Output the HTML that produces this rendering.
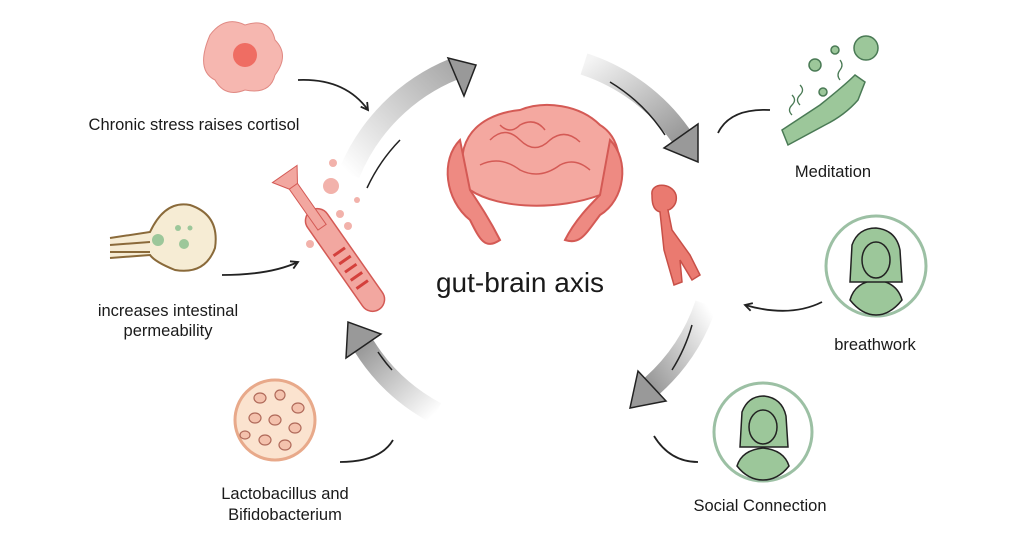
<!DOCTYPE html>
<html><head><meta charset="utf-8"><style>
html,body{margin:0;padding:0;background:#fff}
svg{display:block}
text{font-family:"Liberation Sans",sans-serif;fill:#1a1a1a}
</style></head><body>
<svg width="1024" height="559" viewBox="0 0 1024 559">
<defs>
<linearGradient id="g1" x1="0" y1="1" x2="1" y2="0"><stop offset="0" stop-color="#fff"/><stop offset="1" stop-color="#aaa"/></linearGradient>
<linearGradient id="g2" x1="0" y1="0" x2="1" y2="1"><stop offset="0" stop-color="#f4f4f4"/><stop offset="1" stop-color="#999"/></linearGradient>
<linearGradient id="g3" x1="1" y1="0" x2="0" y2="1"><stop offset="0" stop-color="#fff"/><stop offset="1" stop-color="#999"/></linearGradient>
<linearGradient id="g4" x1="1" y1="1" x2="0" y2="0"><stop offset="0" stop-color="#fff"/><stop offset="1" stop-color="#999"/></linearGradient>
<marker id="ah" markerWidth="10" markerHeight="10" refX="8" refY="5" orient="auto" markerUnits="userSpaceOnUse"><path d="M1,1 L8,5 L1,9" fill="none" stroke="#222" stroke-width="1.8"/></marker>
</defs>
<!-- big arcs -->
<path d="M349,174 A190,190 0 0 1 454,69" fill="none" stroke="url(#g1)" stroke-width="22"/>
<polygon points="448,58 476,65 464,96" fill="#999" stroke="#222" stroke-width="1.5"/>
<path d="M584,64 A190,190 0 0 1 681,136" fill="none" stroke="url(#g2)" stroke-width="22"/>
<polygon points="698,124 698,162 664,148" fill="#999" stroke="#222" stroke-width="1.5"/>
<path d="M706,304 A190,190 0 0 1 652,386" fill="none" stroke="url(#g3)" stroke-width="22"/>
<polygon points="666,401 630,408 638,371" fill="#999" stroke="#222" stroke-width="1.5"/>
<path d="M436,413 A190,190 0 0 1 364,346" fill="none" stroke="url(#g4)" stroke-width="22"/>
<polygon points="346,358 348,322 381,334" fill="#999" stroke="#222" stroke-width="1.5"/>
<!-- inner thin lines -->
<g fill="none" stroke="#222" stroke-width="1.5">
<path d="M367,188 A172,172 0 0 1 400,140"/>
<path d="M610,82 A172,172 0 0 1 665,135"/>
<path d="M692,325 A172,172 0 0 1 672,370"/>
<path d="M392,370 A172,172 0 0 1 378,352"/>
</g>
<!-- brain -->
<g fill="#f4a8a0" stroke="#d45a55" stroke-width="2">
<path d="M470,190 C450,150 470,115 520,110 C545,100 580,105 600,125 C625,140 625,180 600,195 C560,210 500,210 470,190Z"/>
<path d="M460,140 C440,160 445,200 470,220 C480,240 485,250 500,240 C490,220 480,205 470,190Z" fill="#ee8a82"/>
<path d="M610,140 C630,160 625,200 600,215 C585,235 580,245 565,240 C575,220 590,205 600,195Z" fill="#ee8a82"/>
<path d="M490,140 q15,-15 30,0 q15,15 30,0 q15,-12 30,2 M480,165 q20,-10 40,5 q20,10 40,-5 q15,-8 30,5 M500,125 q10,10 20,0 q15,-8 25,5" fill="none" stroke-width="1.5"/>
</g>
<!-- left gut tube -->
<g transform="rotate(-35 345 260)">
<rect x="333" y="200" width="24" height="120" rx="12" fill="#f2a7a0" stroke="#d45a55" stroke-width="1.5"/>
<rect x="340" y="160" width="10" height="60" fill="#f2a7a0" stroke="#d45a55"/>
<path d="M330,155 L360,155 L350,170 L340,170Z" fill="#f2a7a0" stroke="#d45a55"/>
<g stroke="#d4403c" stroke-width="3"><line x1="338" y1="250" x2="352" y2="250"/><line x1="338" y1="260" x2="352" y2="260"/><line x1="338" y1="270" x2="352" y2="270"/><line x1="338" y1="280" x2="352" y2="280"/><line x1="338" y1="290" x2="352" y2="290"/></g>
</g>
<g fill="#f2b2ab"><circle cx="331" cy="186" r="8"/><circle cx="333" cy="163" r="4"/><circle cx="340" cy="214" r="4"/><circle cx="348" cy="226" r="4"/><circle cx="310" cy="244" r="4"/><circle cx="357" cy="200" r="3"/></g>
<!-- right gut -->
<g fill="#ea7a70" stroke="#c85048" stroke-width="1.5">
<path d="M652,195 C650,182 672,182 676,195 C678,205 670,210 668,210 L672,230 L690,255 L700,275 L692,280 L680,260 L682,282 L674,285 L664,250 L660,212 C652,210 652,200 652,195Z"/>
</g>
<!-- stress blob -->
<g fill="#f6b7b0" stroke="#e08a84"><path d="M210,35 q15,-20 35,-10 q25,-8 30,15 q15,15 0,35 q-5,20 -30,15 q-20,8 -30,-10 q-20,-10 -5,-45Z"/><circle cx="245" cy="55" r="12" fill="#ef6d63" stroke="none"/></g>
<!-- cell -->
<g stroke="#8a6a3a" stroke-width="2" fill="#f6ecd4"><path d="M110,238 L150,232 Q165,200 190,205 Q220,215 215,248 Q205,275 175,270 Q155,262 150,255 L110,258" /><path d="M110,245 L150,242 M110,252 L150,252" fill="none"/></g>
<g fill="#9cc79a"><circle cx="158" cy="240" r="6"/><circle cx="184" cy="244" r="5"/><circle cx="178" cy="228" r="3"/><circle cx="190" cy="228" r="2.5"/></g>
<!-- bacteria circle -->
<circle cx="275" cy="420" r="40" fill="#fbe3cf" stroke="#e8a98a" stroke-width="3"/>
<g fill="#f4c2ad" stroke="#b06a5a" stroke-width="1.2"><ellipse cx="260" cy="398" rx="6" ry="5"/><ellipse cx="280" cy="395" rx="5" ry="5"/><ellipse cx="298" cy="408" rx="6" ry="5"/><ellipse cx="255" cy="418" rx="6" ry="5"/><ellipse cx="275" cy="420" rx="6" ry="5"/><ellipse cx="295" cy="428" rx="6" ry="5"/><ellipse cx="265" cy="440" rx="6" ry="5"/><ellipse cx="285" cy="445" rx="6" ry="5"/><ellipse cx="245" cy="435" rx="5" ry="4"/></g>
<!-- meditation -->
<g fill="#9cc79a" stroke="#4a7a55" stroke-width="1.5"><path d="M782,130 L820,105 Q845,85 855,75 L865,82 L858,100 Q845,115 825,125 L788,145Z"/><circle cx="866" cy="48" r="12"/><circle cx="815" cy="65" r="6"/><circle cx="835" cy="50" r="4"/><circle cx="823" cy="92" r="4"/></g>
<g fill="none" stroke="#4a7a55" stroke-width="1.3"><path d="M792,95 q5,5 0,10 q-5,5 0,10 M800,85 q5,5 0,10 q-5,5 0,10 M840,60 q4,5 0,10 q-4,5 0,10"/></g>
<!-- avatars -->
<g>
<circle cx="876" cy="266" r="50" fill="#fff" stroke="#9cc0a4" stroke-width="3"/>
<path d="M850,300 Q855,282 876,280 Q897,282 902,300 Q890,315 876,315 Q862,315 850,300Z" fill="#9cc79a" stroke="#222" stroke-width="1.5"/>
<path d="M850,282 L852,245 Q858,228 876,228 Q896,230 900,250 L902,282Z" fill="#9cc79a" stroke="#222" stroke-width="1.5"/>
<ellipse cx="876" cy="260" rx="14" ry="18" fill="#9cc79a" stroke="#222" stroke-width="1.5"/>
</g>
<g>
<circle cx="763" cy="432" r="49" fill="#fff" stroke="#9cc0a4" stroke-width="3"/>
<path d="M737,466 Q742,450 763,448 Q784,450 789,466 Q778,480 763,480 Q748,480 737,466Z" fill="#9cc79a" stroke="#222" stroke-width="1.5"/>
<path d="M740,447 L742,412 Q748,396 764,396 Q782,398 786,416 L788,447Z" fill="#9cc79a" stroke="#222" stroke-width="1.5"/>
<ellipse cx="763" cy="427" rx="14" ry="17" fill="#9cc79a" stroke="#222" stroke-width="1.5"/>
</g>
<!-- small connectors -->
<g fill="none" stroke="#222" stroke-width="1.8">
<path d="M298,80 Q345,78 368,110" marker-end="url(#ah)"/>
<path d="M222,275 Q270,275 298,262" marker-end="url(#ah)"/>
<path d="M340,462 Q380,462 393,440"/>
<path d="M718,133 Q730,108 770,110"/>
<path d="M822,302 Q790,318 745,305" marker-end="url(#ah)"/>
<path d="M654,436 Q670,462 698,462"/>
</g>
<!-- labels -->
<text x="520" y="292" font-size="28" text-anchor="middle">gut-brain axis</text>
<g font-size="16.5" text-anchor="middle">
<text x="194" y="130">Chronic stress raises cortisol</text>
<text x="168" y="316">increases intestinal</text>
<text x="168" y="336">permeability</text>
<text x="285" y="499">Lactobacillus and</text>
<text x="285" y="520">Bifidobacterium</text>
<text x="833" y="177">Meditation</text>
<text x="875" y="350">breathwork</text>
<text x="760" y="511">Social Connection</text>
</g>
</svg>
</body></html>
